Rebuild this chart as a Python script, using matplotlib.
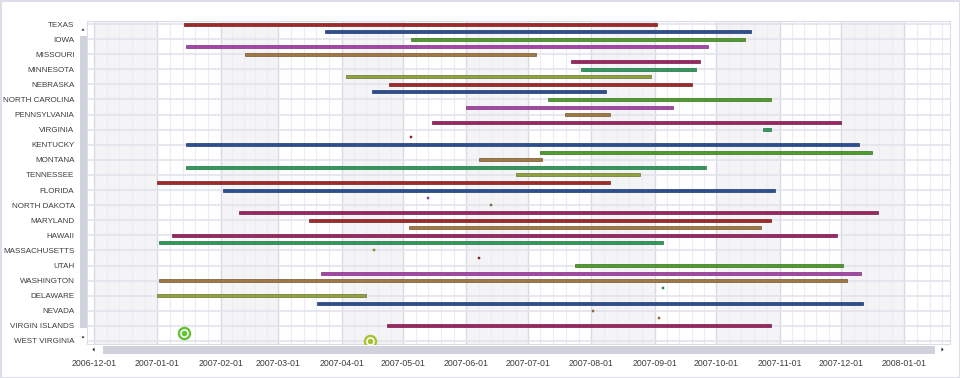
import datetime as dt
import matplotlib
matplotlib.use("Agg")
import matplotlib.pyplot as plt
import matplotlib.dates as mdates
from matplotlib.patches import Rectangle, Polygon
from matplotlib.colors import to_rgb

plt.rcParams['font.family'] = ['Liberation Sans', 'DejaVu Sans']

# row labels (every other row is labelled in the original)
states = ["TEXAS", "IOWA", "MISSOURI", "MINNESOTA", "NEBRASKA", "NORTH CAROLINA",
          "PENNSYLVANIA", "VIRGINIA", "KENTUCKY", "MONTANA", "TENNESSEE", "FLORIDA",
          "NORTH DAKOTA", "MARYLAND", "HAWAII", "MASSACHUSETTS", "UTAH", "WASHINGTON",
          "DELAWARE", "NEVADA", "VIRGIN ISLANDS", "WEST VIRGINIA"]

palette = {
    'red': '#a02a2a', 'blue': '#2c4f93', 'green': '#4f9c2c', 'purple': '#a845a8',
    'brown': '#a07842', 'crimson': '#9c2663', 'teal': '#2f9a5c', 'olive': '#8ea23e',
}

# tasks: row index, start, end, colour
task_row = list(range(41))
task_start = ["2007-01-14", "2007-03-24", "2007-05-05", "2007-01-15", "2007-02-13",
              "2007-07-22", "2007-07-27", "2007-04-03", "2007-04-24", "2007-04-16",
              "2007-07-11", "2007-06-01", "2007-07-19", "2007-05-15", "2007-10-24",
              "2007-05-05", "2007-01-15", "2007-07-07", "2007-06-07", "2007-01-15",
              "2007-06-25", "2007-01-01", "2007-02-02", "2007-05-13", "2007-06-13",
              "2007-02-10", "2007-03-16", "2007-05-04", "2007-01-08", "2007-01-02",
              "2007-04-17", "2007-06-07", "2007-07-24", "2007-03-22", "2007-01-02",
              "2007-09-05", "2007-01-01", "2007-03-20", "2007-08-02", "2007-09-03",
              "2007-04-23"]
task_end = ["2007-09-02", "2007-10-18", "2007-10-15", "2007-09-27", "2007-07-05",
            "2007-09-23", "2007-09-21", "2007-08-30", "2007-09-19", "2007-08-08",
            "2007-10-28", "2007-09-10", "2007-08-10", "2007-12-01", "2007-10-28",
            "2007-05-05", "2007-12-10", "2007-12-16", "2007-07-08", "2007-09-26",
            "2007-08-25", "2007-08-10", "2007-10-30", "2007-05-13", "2007-06-13",
            "2007-12-19", "2007-10-28", "2007-10-23", "2007-11-29", "2007-09-05",
            "2007-04-17", "2007-06-07", "2007-12-02", "2007-12-11", "2007-12-04",
            "2007-09-05", "2007-04-13", "2007-12-12", "2007-08-02", "2007-09-03",
            "2007-10-28"]
task_color = ['red', 'blue', 'green', 'purple', 'brown', 'crimson', 'teal', 'olive',
              'red', 'blue', 'green', 'purple', 'brown', 'crimson', 'teal', 'red',
              'blue', 'green', 'brown', 'teal', 'olive', 'red', 'blue', 'purple',
              'brown', 'crimson', 'red', 'brown', 'crimson', 'teal', 'olive', 'red',
              'green', 'purple', 'brown', 'teal', 'olive', 'blue', 'brown', 'brown',
              'crimson']

# milestones
milestone_row = [41, 42]
milestone_date = ["2007-01-14", "2007-04-15"]
milestone_color = ['#62c234', '#a6c233']

month_ticks = ["2006-12-01", "2007-01-01", "2007-02-01", "2007-03-01", "2007-04-01",
               "2007-05-01", "2007-06-01", "2007-07-01", "2007-08-01", "2007-09-01",
               "2007-10-01", "2007-11-01", "2007-12-01", "2008-01-01"]


def d(s):
    return mdates.date2num(dt.datetime.strptime(s, "%Y-%m-%d"))


def darker(c, f=0.72):
    r, g, b = to_rgb(c)
    return (r * f, g * f, b * f)


W, H = 960, 378
fig = plt.figure(figsize=(W / 100, H / 100), dpi=100)
ax = fig.add_axes([87 / W, 1 - 344 / H, 863 / W, 323.3 / H])

x0 = d("2006-12-01")
ax.set_xlim(x0 - 3.4, x0 + 418.3)
ax.set_ylim(42.4, -0.44)

# alternate month shading + gridlines
months = [d(m) for m in month_ticks] + [d("2008-02-01")]
for i in range(len(months) - 1):
    if i % 2 == 0:
        ax.axvspan(months[i], months[i + 1], color='#f4f4f7', zorder=0, lw=0)
    for k in range(1, 5):
        ax.axvline(months[i] + (months[i + 1] - months[i]) * k / 5,
                   color='#ececf2', lw=0.8, zorder=0.5)
for m in months[:-1]:
    ax.axvline(m, color='#dadae6', lw=1.0, zorder=0.6)
for r in range(0, 43, 2):
    ax.axhline(r, color='#e3e3ec', lw=1.2, zorder=0.6)

# tasks
for r, s, e, c in zip(task_row, task_start, task_end, task_color):
    col = palette[c]
    if s == e:
        ax.plot(d(s), r, marker='s', ms=1.8, color=col, mec=darker(col), mew=0.3, zorder=3)
    else:
        ax.barh(r, d(e) - d(s), left=d(s), height=0.4, color=col,
                edgecolor=darker(col), linewidth=0.5, zorder=3)

# milestones
for r, s, c in zip(milestone_row, milestone_date, milestone_color):
    ax.plot(d(s), r, marker='o', ms=8, mfc='white', mec=c, mew=1.7, zorder=4)
    ax.plot(d(s), r, marker='o', ms=3, color=c, zorder=5)

ax.set_xticks([d(m) for m in month_ticks])
ax.set_xticklabels(month_ticks)
ax.set_yticks(range(0, 43, 2))
ax.set_yticklabels(states)
ax.tick_params(axis='x', length=0, pad=11, labelsize=6.3, labelcolor='#3c3c3c')
ax.tick_params(axis='y', length=0, pad=9, labelsize=5.8, labelcolor='#3c3c3c')
for sp in ax.spines.values():
    sp.set_color('#dcdce6')
    sp.set_linewidth(0.8)


# scrollbars drawn in figure pixels
def rect(x, y, w, h, fc):
    fig.patches.append(Rectangle((x / W, 1 - (y + h) / H), w / W, h / H,
                                 transform=fig.transFigure, facecolor=fc,
                                 edgecolor='none', zorder=10))


def tri(pts):
    fig.patches.append(Polygon([(px / W, 1 - py / H) for px, py in pts],
                               transform=fig.transFigure, facecolor='#111111',
                               edgecolor='none', zorder=11))


rect(79, 21, 8, 323, '#ffffff')
rect(80, 36, 7, 292, '#cfd1dd')
tri([(81.5, 30.5), (84.5, 30.5), (83, 28.5)])
tri([(81.5, 336.5), (84.5, 336.5), (83, 338.5)])
rect(87, 345, 863, 9, '#ffffff')
rect(103, 345.5, 832, 8, '#cfd1dd')
tri([(94.5, 347.5), (94.5, 351.5), (92.5, 349.5)])
tri([(941.5, 347.5), (941.5, 351.5), (943.5, 349.5)])

# outer frame
fig.patches.append(Rectangle((0.5 / W, 0.5 / H), (W - 1) / W, (H - 1) / H,
                             transform=fig.transFigure, facecolor='none',
                             edgecolor='#dcdde8', lw=1.5, zorder=12))

fig.savefig("out.png", dpi=100)
